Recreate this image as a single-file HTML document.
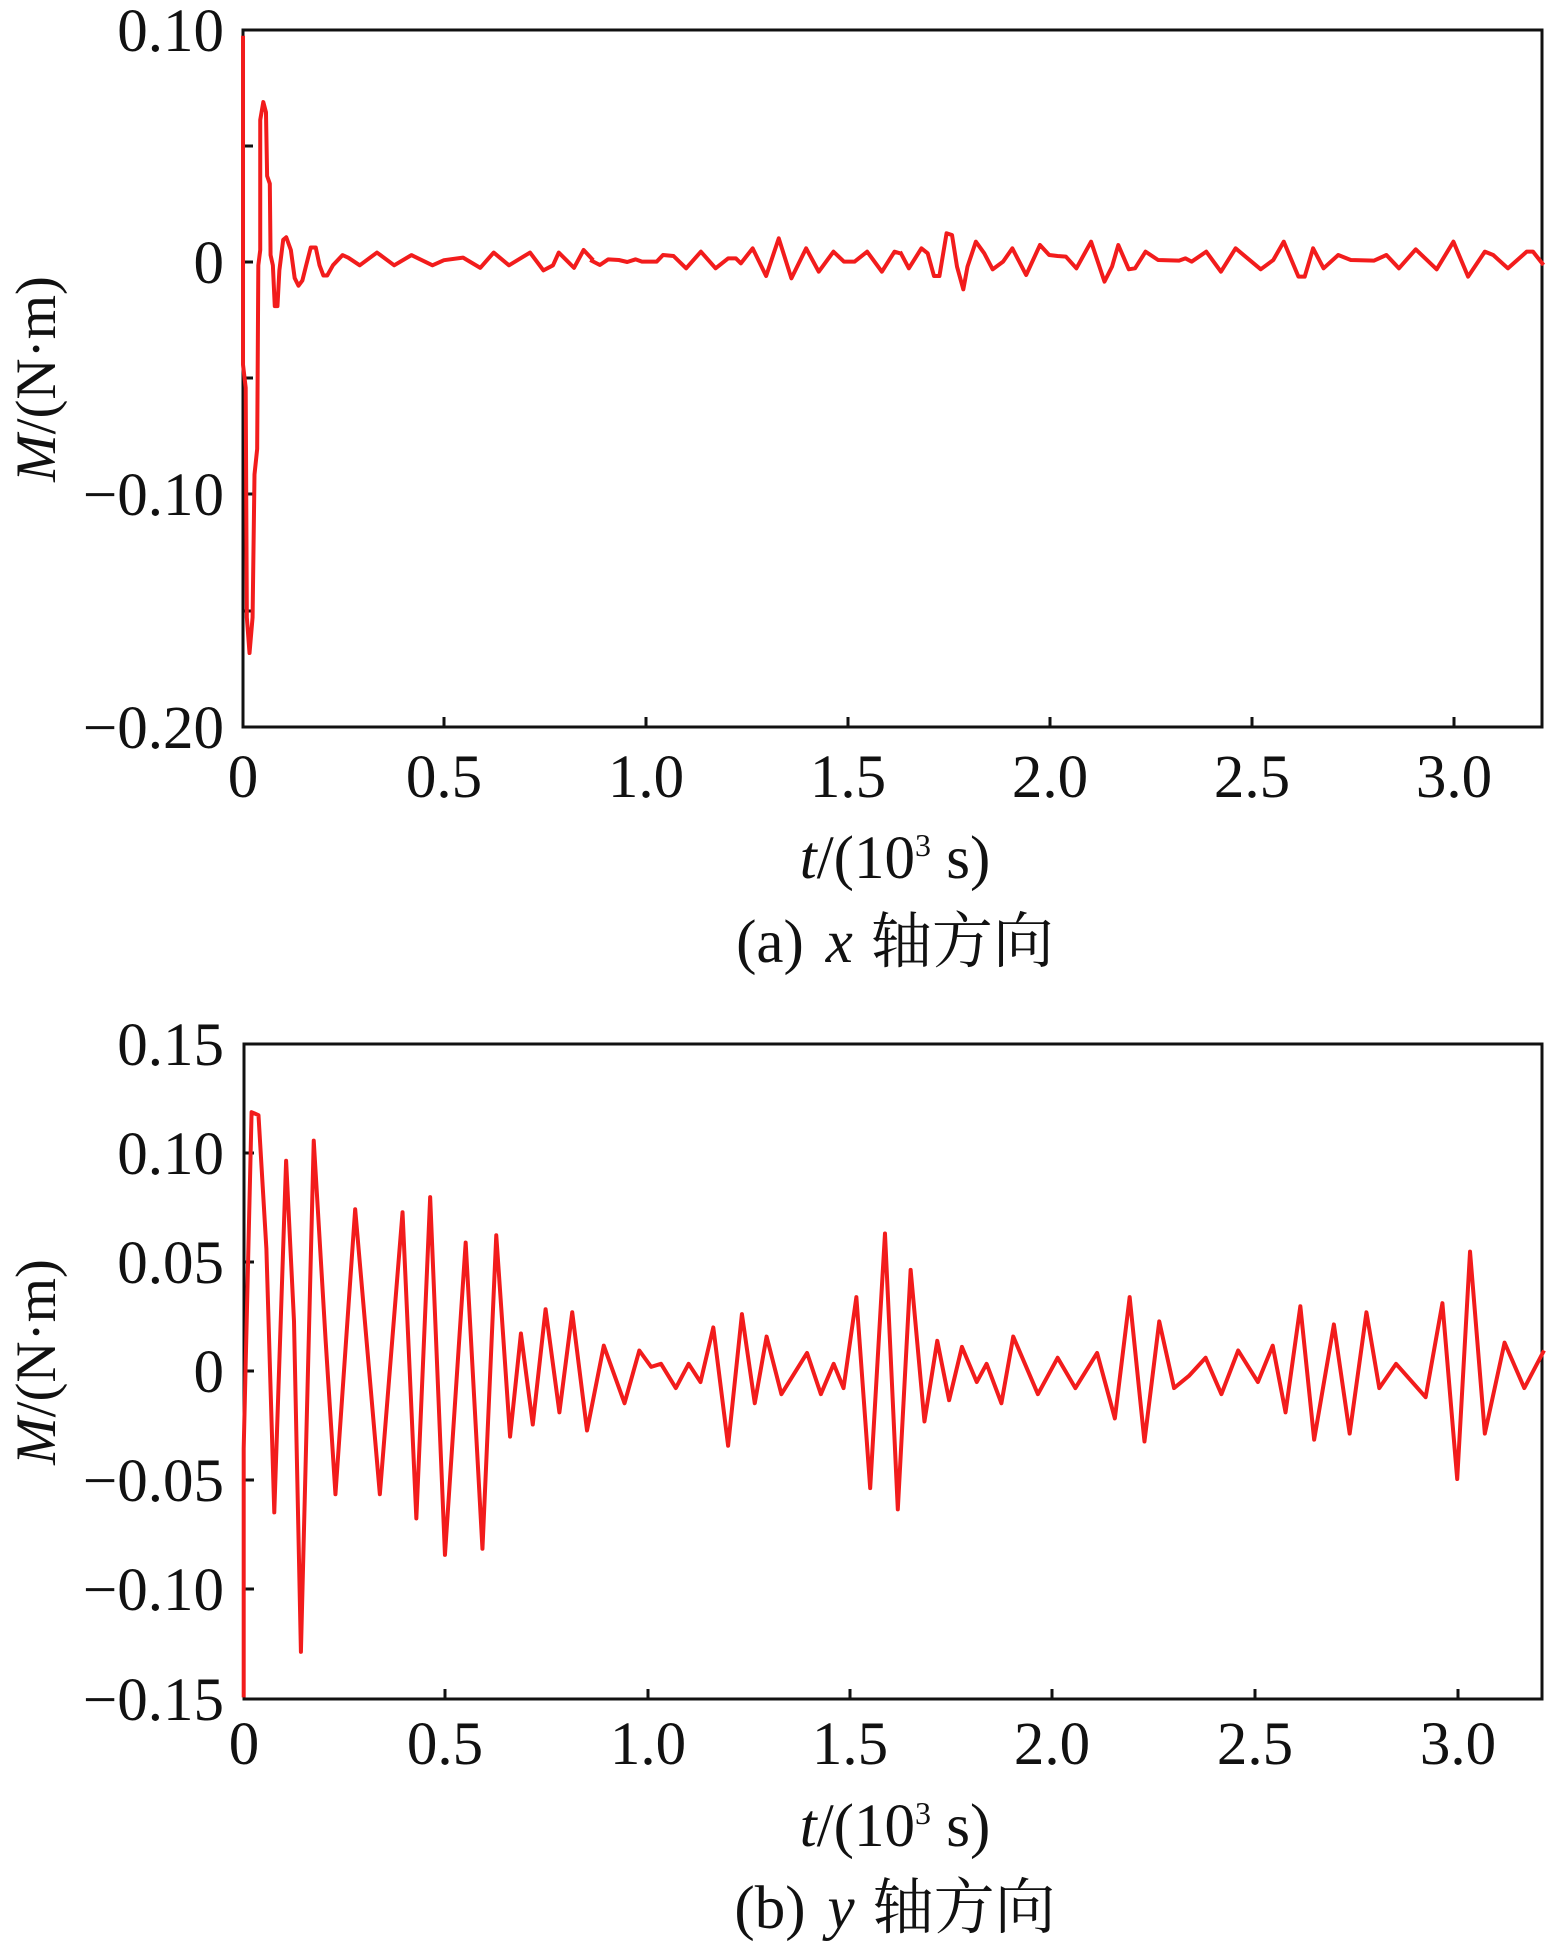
<!DOCTYPE html>
<html><head><meta charset="utf-8"><style>
body{margin:0;background:#fff}
svg{display:block}
text{font-family:"Liberation Serif","Noto Serif CJK SC",serif;fill:#111}
</style></head><body>
<svg width="1547" height="1951" viewBox="0 0 1547 1951" xmlns="http://www.w3.org/2000/svg">
<!-- Plot A -->
<g stroke="#111" stroke-width="3" fill="none">
<rect x="243" y="30" width="1299" height="697"/>
<path d="M243 146h10M243 262h10M243 378h10M243 494h10M243 611h10M444 727v-10M646 727v-10M848 727v-10M1050 727v-10M1252 727v-10M1454 727v-10"/>
</g>
<g font-size="61" text-anchor="end">
<text x="224" y="51">0.10</text>
<text x="224" y="283">0</text>
<text x="224" y="515">−0.10</text>
<text x="224" y="748">−0.20</text>
</g>
<g font-size="61" text-anchor="middle">
<text x="243" y="797">0</text><text x="444" y="797">0.5</text><text x="646" y="797">1.0</text><text x="848" y="797">1.5</text><text x="1050" y="797">2.0</text><text x="1252" y="797">2.5</text><text x="1454" y="797">3.0</text>
<text x="895" y="878"><tspan font-style="italic">t</tspan>/(10<tspan font-size="32" dy="-22">3</tspan><tspan dy="22"> s)</tspan></text>
<text x="895" y="962">(a)<tspan dx="22" font-style="italic">x</tspan><tspan dx="18">轴方向</tspan></text>
</g>
<text font-size="57" text-anchor="middle" transform="translate(55,379) rotate(-90)"><tspan font-style="italic">M</tspan>/(N·m)</text>

<g fill="none" stroke="#f21c1c" stroke-width="4" stroke-linejoin="round">
<g transform="scale(0.3827,0.5102)"><polyline vector-effect="non-scaling-stroke" points="635,70 635,715 642,760 645,1210 652,1280 660,1210 665,930 672,880 675,520 680,490 680,235 688,200 695,220 698,345 705,360 707,500 713,520 718,600 725,600 730,530 740,470 748,465 760,490 770,545 780,560 790,550 800,520 812,485 825,485 835,520 845,540 855,540 870,520 895,500 910,505 940,520 985,495 1030,520 1075,500 1130,520 1160,510 1210,505 1255,525 1290,495 1330,520 1385,495 1420,530 1445,520 1460,495 1480,510 1500,525 1525,490 1550,510"/></g>
<g transform="translate(240,200) scale(0.4209,0.3333)"><polyline vector-effect="non-scaling-stroke" points="832,180 855,195 875,178 900,180 920,186 940,178 955,185 990,185 1005,165 1030,168 1060,205 1095,155 1130,205 1160,175 1178,175 1190,190 1218,145 1250,228 1280,115 1310,235 1345,145 1375,215 1410,155 1435,185 1460,185 1490,155 1525,215 1555,155 1568,160"/></g>
<g transform="translate(890,200) scale(0.4189,0.3333)"><polyline vector-effect="non-scaling-stroke" points="24,155 45,205 75,145 90,160 105,228 118,228 135,100 148,105 160,200 175,268 185,200 205,125 225,160 245,208 270,185 292,145 325,225 358,135 380,165 400,168 420,170 445,205 480,125 512,245 530,200 545,135 570,208 585,205 610,155 640,180 690,182 705,175 720,185 755,155 790,215 825,145 885,208 915,180 940,125 975,230 990,230 1010,145 1035,205 1070,165 1100,180 1155,182 1185,165 1215,205 1255,148 1305,208 1345,125 1380,230 1420,155 1440,165 1475,205 1520,155 1535,155 1560,195"/></g>
</g>

<!-- Plot B -->
<g stroke="#111" stroke-width="3" fill="none">
<rect x="244" y="1044" width="1298" height="655"/>
<path d="M244 1153h10M244 1262h10M244 1371h10M244 1480h10M244 1589h10M445 1699v-10M648 1699v-10M850 1699v-10M1052 1699v-10M1255 1699v-10M1458 1699v-10"/>
</g>
<g font-size="61" text-anchor="end">
<text x="224" y="1065">0.15</text>
<text x="224" y="1174">0.10</text>
<text x="224" y="1283">0.05</text>
<text x="224" y="1392">0</text>
<text x="224" y="1501">−0.05</text>
<text x="224" y="1610">−0.10</text>
<text x="224" y="1720">−0.15</text>
</g>
<g font-size="61" text-anchor="middle">
<text x="244" y="1764">0</text><text x="445" y="1764">0.5</text><text x="648" y="1764">1.0</text><text x="850" y="1764">1.5</text><text x="1052" y="1764">2.0</text><text x="1255" y="1764">2.5</text><text x="1458" y="1764">3.0</text>
<text x="895" y="1846"><tspan font-style="italic">t</tspan>/(10<tspan font-size="32" dy="-22">3</tspan><tspan dy="22"> s)</tspan></text>
<text x="895" y="1928">(b)<tspan dx="22" font-style="italic">y</tspan><tspan dx="18">轴方向</tspan></text>
</g>
<text font-size="57" text-anchor="middle" transform="translate(55,1362) rotate(-90)"><tspan font-style="italic">M</tspan>/(N·m)</text>

<g fill="none" stroke="#f21c1c" stroke-width="4" stroke-linejoin="round">
<g transform="translate(0,1000) scale(0.9866,0.6064)"><polyline vector-effect="non-scaling-stroke" points="247,1150 247,740 255,185 262,190 270,410 278,845 290,265 298,530 305,1075 318,232 330,560 340,815 360,345 385,815 408,350 422,855 436,325 451,915 472,400 489,905 503,388 517,720 528,550 540,700 553,510 567,680 580,515 595,710 612,570 633,665 648,578 660,605 670,600 685,640 698,600 710,630 723,540 738,735 752,518 765,665 777,555 792,650 818,582 832,650 845,600 855,640 868,490 882,805 897,385 910,840 923,445 937,695 950,562 962,660 975,572 990,630 1000,600 1015,665 1027,555 1052,650 1072,590 1090,640 1112,582 1130,690 1145,490 1160,728 1175,530 1190,640 1205,620 1222,590 1238,650 1255,578 1275,630 1290,570 1303,680 1318,505 1332,725 1352,535 1368,715 1385,515 1398,640 1415,600 1445,655 1462,500 1477,790 1490,415 1505,715 1525,565 1545,640 1565,578"/></g>
</g>
</svg>
</body></html>
